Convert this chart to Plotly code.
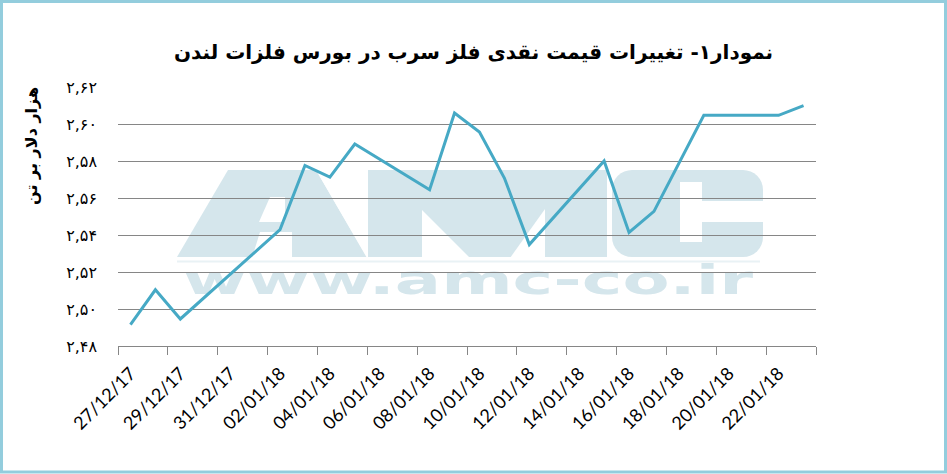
import base64
import plotly.graph_objects as go

# ---- data ----
dates = ["2017-12-27", "2017-12-28", "2017-12-29", "2018-01-02", "2018-01-03",
         "2018-01-04", "2018-01-05", "2018-01-08", "2018-01-09", "2018-01-10",
         "2018-01-11", "2018-01-12", "2018-01-15", "2018-01-16", "2018-01-17",
         "2018-01-18", "2018-01-19", "2018-01-22", "2018-01-23"]
prices = [2.4915, 2.5104, 2.4946, 2.5429, 2.5776,
          2.5713, 2.5892, 2.5645, 2.6059, 2.5957,
          2.5708, 2.5348, 2.5800, 2.5414, 2.5528,
          2.5787, 2.6047, 2.6047, 2.6099]

x_tick_vals = ["2017-12-27", "2017-12-29", "2017-12-31", "2018-01-02", "2018-01-04",
               "2018-01-06", "2018-01-08", "2018-01-10", "2018-01-12", "2018-01-14",
               "2018-01-16", "2018-01-18", "2018-01-20", "2018-01-22"]
x_tick_text = ["27/12/17", "29/12/17", "31/12/17", "02/01/18", "04/01/18",
               "06/01/18", "08/01/18", "10/01/18", "12/01/18", "14/01/18",
               "16/01/18", "18/01/18", "20/01/18", "22/01/18"]
y_tick_vals = [2.48, 2.50, 2.52, 2.54, 2.56, 2.58, 2.60, 2.62]
y_tick_text = ["۲,۴۸", "۲,۵۰", "۲,۵۲", "۲,۵۴", "۲,۵۶", "۲,۵۸", "۲,۶۰", "۲,۶۲"]

title_text = "نمودار۱- تغییرات قیمت نقدی فلز سرب در بورس فلزات لندن"
y_title_text = "هزار دلار بر تن"

# ---- layout geometry ----
W, H = 947, 474
ML, MR, MT, MB = 118, 131, 87, 128
PW, PH = W - ML - MR, H - MT - MB

def px_x(p):
    return (p - ML) / PW

def px_y(p):
    return (H - MB - p) / PH

# minor tick (slot boundary) positions: every 2 days, half a day before labels
minor_vals = []
for d in ["2017-12-26", "2017-12-28", "2017-12-30", "2018-01-01", "2018-01-03",
          "2018-01-05", "2018-01-07", "2018-01-09", "2018-01-11", "2018-01-13",
          "2018-01-15", "2018-01-17", "2018-01-19", "2018-01-21", "2018-01-23"]:
    minor_vals.append(d + " 12:00")

# ---- watermark (decorative) ----
wm = "#d5e6ec"
svg = f'''<svg xmlns="http://www.w3.org/2000/svg" width="{W}" height="{H}" viewBox="0 0 {W} {H}">
<g fill="{wm}">
<path d="M177 257 L228 170 L316 170 L367 257 Z"/>
<path d="M368 170 L607 170 L607 257 L368 257 Z"/>
<rect x="612" y="170" width="151" height="87" rx="20" ry="20"/>
</g>
<g fill="#ffffff">
<path d="M270 197 L285 197 L285 222 L259 222 Z"/>
<path d="M260 232 L292 232 L292 258 L252 258 Z"/>
<path d="M368 170 L368 258 L367 258 L316 170 Z"/>
<path d="M422 210 L470 258 L422 258 Z"/>
<path d="M545 209 L545 258 L510 258 Z"/>
<path d="M680 182 L702 182 L702 201 L764 201 L764 222 L702 222 L702 242 L680 242 Z"/>
</g>
<rect x="177" y="260.5" width="583" height="2" fill="#e9f2f5"/>
<text x="183" y="294" font-family="DejaVu Sans" font-weight="bold" font-size="40" fill="{wm}"
 textLength="570" lengthAdjust="spacingAndGlyphs">www.amc-co.ir</text>
</svg>'''
svg_uri = "data:image/svg+xml;base64," + base64.b64encode(svg.encode("utf-8")).decode("ascii")

fig = go.Figure()
fig.add_trace(go.Scatter(
    x=dates, y=prices, mode="lines",
    line=dict(color="#46a9c5", width=3),
    hoverinfo="skip", showlegend=False,
))

fig.update_layout(
    width=W, height=H,
    margin=dict(l=ML, r=MR, t=MT, b=MB, autoexpand=False),
    paper_bgcolor="white",
    plot_bgcolor="rgba(0,0,0,0)",
    title=dict(text="<b>" + title_text + "</b>", x=0.5, xanchor="center",
               y=1 - 52 / H, yanchor="middle",
               font=dict(family="DejaVu Sans", size=20, color="black")),
    xaxis=dict(
        type="date",
        range=["2017-12-26 12:00", "2018-01-23 12:00"],
        tickmode="array", tickvals=x_tick_vals, ticktext=x_tick_text,
        ticks="", tickangle=-45, ticklabelstandoff=9,
        tickfont=dict(family="Lato", size=18, color="black"),
        showgrid=False, zeroline=False,
        showline=True, linecolor="#868686", linewidth=1,
        minor=dict(tickmode="array", tickvals=minor_vals, ticks="outside",
                   ticklen=8, tickcolor="#868686", tickwidth=1, showgrid=False),
    ),
    yaxis=dict(
        range=[2.48, 2.62],
        tickmode="array", tickvals=y_tick_vals, ticktext=y_tick_text,
        ticks="", ticklabelstandoff=20,
        tickfont=dict(family="DejaVu Sans", size=16, color="black"),
        showgrid=True, gridcolor="#868686", gridwidth=1,
        zeroline=False, showline=False,
    ),
    images=[dict(source=svg_uri, xref="paper", yref="paper",
                 x=px_x(0), y=px_y(0), sizex=W / PW, sizey=H / PH,
                 xanchor="left", yanchor="top", sizing="stretch", layer="below")],
    annotations=[dict(text="<b>" + y_title_text + "</b>", textangle=-90,
                      xref="paper", yref="paper", x=px_x(31), y=px_y(146),
                      xanchor="center", yanchor="middle", showarrow=False,
                      font=dict(family="DejaVu Sans", size=16, color="black"))],
    shapes=[dict(type="rect", xref="paper", yref="paper",
                 x0=px_x(1.5), x1=px_x(W - 1.5), y0=px_y(1.5), y1=px_y(H - 2),
                 line=dict(color="#93cddd", width=3), fillcolor="rgba(0,0,0,0)",
                 layer="above")],
)

fig.write_html("out.html", config={"displayModeBar": False},
               post_script="document.body.style.margin='0';document.body.style.padding='0';")
